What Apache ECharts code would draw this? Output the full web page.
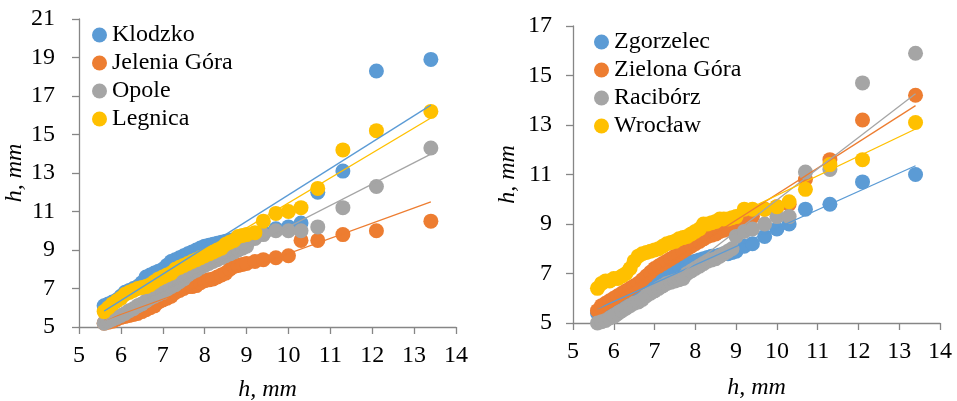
<!DOCTYPE html>
<html>
<head>
<meta charset="utf-8">
<script src="https://cdn.jsdelivr.net/npm/echarts@6/dist/echarts.min.js"></script>
<style>html,body{margin:0;padding:0;background:#fff}#c{width:957px;height:401px}</style>
</head>
<body>
<div id="c"></div>
<script>
// common x values (h, mm)
const xVals = [5.6,5.7,5.8,5.9,6.0,6.1,6.2,6.3,6.4,6.5,6.6,6.7,6.8,6.9,7.0,7.1,7.2,7.3,7.4,7.5,7.6,7.7,7.8,7.9,8.0,8.1,8.2,8.3,8.4,8.5,8.6,8.7,8.8,8.9,9.0,9.2,9.4,9.7,10.0,10.3,10.7,11.3,12.1,13.4];

// left chart
const klodzko = [6.1,6.2,6.3,6.4,6.6,6.8,6.9,7.0,7.1,7.3,7.6,7.7,7.8,7.9,8.0,8.2,8.4,8.5,8.6,8.7,8.8,8.9,9.0,9.1,9.2,9.25,9.3,9.35,9.4,9.45,9.5,9.55,9.6,9.65,9.7,9.8,9.9,10.1,10.2,10.4,12.0,13.1,18.3,18.9];
const jeleniaGora = [5.2,5.25,5.3,5.4,5.5,5.55,5.6,5.65,5.7,5.8,5.9,6.0,6.1,6.3,6.4,6.5,6.6,6.8,6.9,7.0,7.1,7.1,7.15,7.3,7.4,7.45,7.5,7.6,7.7,7.8,8.0,8.15,8.2,8.25,8.3,8.4,8.5,8.6,8.7,9.5,9.5,9.8,10.0,10.5];
const opole = [5.2,5.3,5.4,5.5,5.6,5.7,5.85,5.95,6.1,6.2,6.35,6.5,6.6,6.7,6.8,6.95,7.1,7.2,7.35,7.5,7.7,7.85,7.95,8.1,8.2,8.3,8.4,8.5,8.6,8.7,8.8,8.9,9.0,9.1,9.2,9.6,9.8,10.0,10.0,10.0,10.2,11.2,12.3,14.3];
const legnica = [5.8,6.0,6.2,6.35,6.5,6.7,6.8,6.9,7.0,7.05,7.1,7.2,7.35,7.5,7.6,7.7,7.8,8.0,8.1,8.2,8.3,8.4,8.5,8.6,8.7,8.8,8.9,9.0,9.1,9.3,9.4,9.5,9.7,9.75,9.8,9.9,10.5,10.9,11.0,11.2,12.2,14.2,15.2,16.2];

// right chart
const zgorzelec = [5.4,5.5,5.6,5.7,5.8,5.9,6.0,6.05,6.1,6.2,6.3,6.4,6.45,6.5,6.6,6.7,6.8,6.9,7.1,7.2,7.3,7.35,7.4,7.45,7.5,7.55,7.6,7.65,7.7,7.7,7.75,7.8,7.8,7.85,7.9,8.1,8.2,8.5,8.8,9.0,9.6,9.8,10.7,11.0];
const zielonaGora = [5.5,5.7,5.8,5.9,6.0,6.1,6.2,6.3,6.4,6.5,6.6,6.75,6.9,7.05,7.2,7.3,7.4,7.5,7.6,7.7,7.8,7.9,8.0,8.1,8.2,8.3,8.4,8.5,8.55,8.6,8.7,8.75,8.8,8.85,8.9,9.1,9.3,9.6,9.7,9.8,10.8,11.6,13.2,14.2];
const raciborz = [5.0,5.05,5.1,5.2,5.3,5.4,5.5,5.6,5.7,5.8,5.85,5.95,6.1,6.2,6.3,6.4,6.5,6.6,6.65,6.7,6.75,6.8,7.0,7.1,7.2,7.3,7.4,7.5,7.55,7.6,7.7,7.8,7.9,8.0,8.5,8.7,8.8,9.0,9.3,9.3,11.1,11.2,14.7,15.9];
const wroclaw = [6.4,6.6,6.7,6.7,6.8,6.8,6.9,7.0,7.2,7.5,7.7,7.8,7.85,7.9,7.95,8.0,8.1,8.2,8.25,8.3,8.4,8.45,8.5,8.6,8.7,8.8,9.0,9.0,9.05,9.1,9.2,9.2,9.2,9.25,9.3,9.6,9.6,9.6,9.7,9.9,10.4,11.4,11.6,13.1];

const leftNames = ['Klodzko','Jelenia Góra','Opole','Legnica'];
const rightNames = ['Zgorzelec','Zielona Góra','Racibórz','Wrocław'];
const colors = ['#5B9BD5','#ED7D31','#A5A5A5','#FFC000'];

const FONT = 'Liberation Serif';

function pairs(ys){ return xVals.map((x,i)=>[x, ys[i]]); }
function trend(ys){
  const n = xVals.length;
  let sx=0, sy=0, sxx=0, sxy=0;
  for(let i=0;i<n;i++){ sx+=xVals[i]; sy+=ys[i]; sxx+=xVals[i]*xVals[i]; sxy+=xVals[i]*ys[i]; }
  const b = (n*sxy - sx*sy)/(n*sxx - sx*sx);
  const a = (sy - b*sx)/n;
  const x0 = xVals[0], x1 = xVals[n-1];
  return [[x0, a+b*x0],[x1, a+b*x1]];
}

const series = [];
function addSet(names, datas, idx){
  names.forEach((nm, i)=>{
    series.push({
      name: nm, type:'scatter', xAxisIndex: idx, yAxisIndex: idx,
      symbol:'circle', symbolSize: 15, data: pairs(datas[i]),
      itemStyle:{color: colors[i], opacity:1}, z: 2, silent:true
    });
  });
  names.forEach((nm, i)=>{
    series.push({
      name: nm + ' trend', type:'line', xAxisIndex: idx, yAxisIndex: idx,
      data: trend(datas[i]), symbol:'none', showSymbol:false,
      lineStyle:{color: colors[i], width: 1.3}, z: 5, silent:true, animation:false
    });
  });
}
addSet(leftNames, [klodzko, jeleniaGora, opole, legnica], 0);
addSet(rightNames, [zgorzelec, zielonaGora, raciborz, wroclaw], 1);

const axisLine = {show:true, lineStyle:{color:'#868686', width:1.3}};
const axisTick = {show:true, length:7, lineStyle:{color:'#868686', width:1.3}};
const labelStyle = {color:'#000', fontFamily: FONT, fontSize: 24};
const nameStyle = {color:'#000', fontFamily: FONT, fontSize: 24, fontStyle:'italic'};

function xAx(gi, gap){
  return {type:'value', gridIndex: gi, min:5, max:14, interval:1,
    axisLine, axisTick, splitLine:{show:false},
    axisLabel:{...labelStyle, margin: 17},
    name:'h, mm', nameLocation:'middle', nameGap: gap, nameTextStyle: nameStyle};
}
function yAx(gi, max, gap, margin){
  return {type:'value', gridIndex: gi, min:5, max:max, interval:2,
    axisLine, axisTick, splitLine:{show:false},
    axisLabel:{...labelStyle, margin: margin},
    name:'h, mm', nameLocation:'middle', nameRotate: 90, nameGap: gap, nameTextStyle: nameStyle};
}

const option = {
  animation:false,
  backgroundColor:'#fff',
  grid:[
    {left:79, right:501, top:19, bottom:74, outerBoundsMode:'none', containLabel:false},
    {left:573, right:17, top:26, bottom:78, outerBoundsMode:'none', containLabel:false}
  ],
  xAxis:[ xAx(0, 51), xAx(1, 53) ],
  yAxis:[ yAx(0, 21, 49, 24), yAx(1, 17, 53, 21) ],
  legend:[
    {data: leftNames, orient:'vertical', left: 87, top: 18, icon:'circle', itemWidth:15, itemHeight:15, itemGap: 4,
     textStyle:{color:'#000', fontFamily: FONT, fontSize: 24}, selectedMode:false},
    {data: rightNames, orient:'vertical', left: 589, top: 25, icon:'circle', itemWidth:15, itemHeight:15, itemGap: 4,
     textStyle:{color:'#000', fontFamily: FONT, fontSize: 24}, selectedMode:false}
  ],
  series
};

const chart = echarts.init(document.getElementById('c'), null, {renderer:'canvas'});
chart.setOption(option);
</script>
</body>
</html>
